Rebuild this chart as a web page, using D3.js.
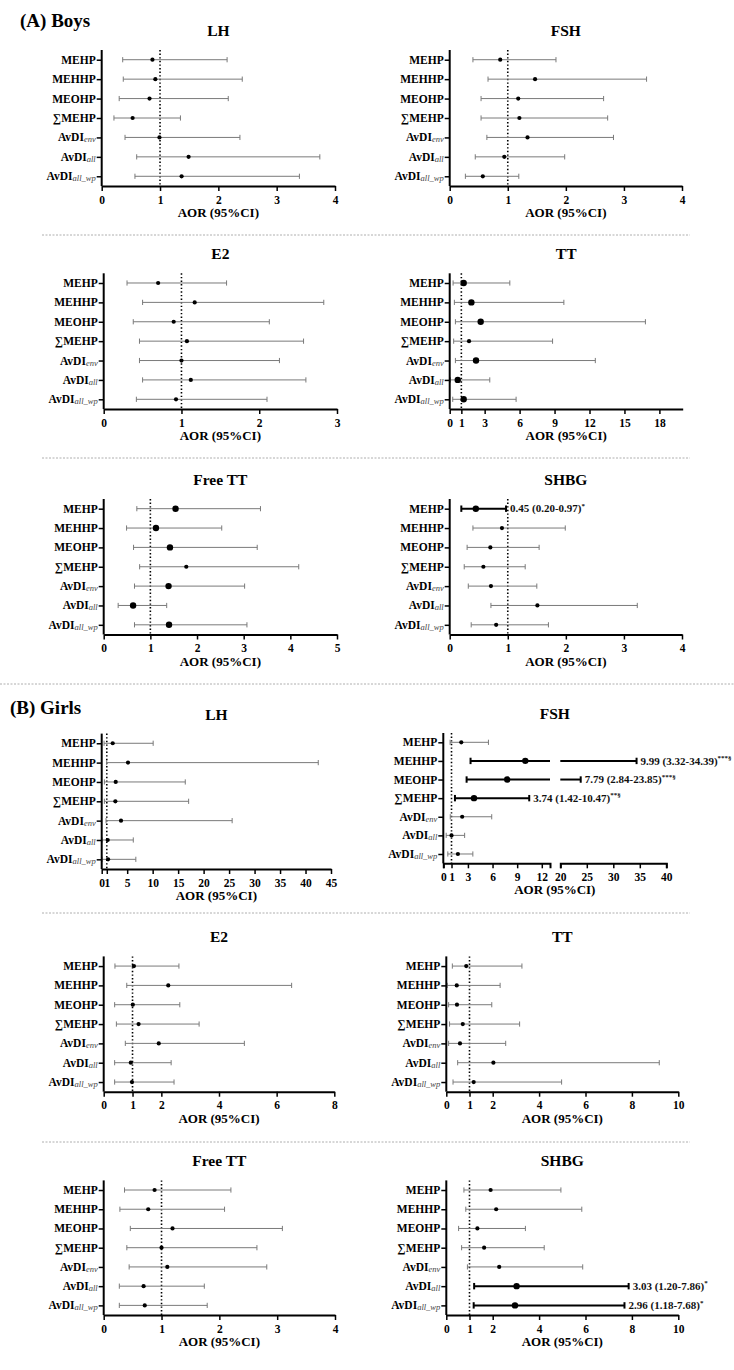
<!DOCTYPE html>
<html><head><meta charset="utf-8">
<script src="https://cdn.jsdelivr.net/npm/d3@7"></script>
<style>body{margin:0;background:#fff} text{font-family:"Liberation Serif","Times New Roman",serif}</style>
</head><body><svg id="c" width="734" height="1370"></svg>
<script>
const categories = ["MEHP","MEHHP","MEOHP","\u2211MEHP","AvDI_env","AvDI_all","AvDI_all_wp"];

// Boys
const bLH_or = [0.87,0.92,0.82,0.53,0.99,1.49,1.37];
const bLH_lo = [0.36,0.37,0.30,0.21,0.40,0.60,0.57];
const bLH_hi = [2.15,2.41,2.17,1.35,2.37,3.74,3.39];
const bLH_ticks = [0,1,2,3,4];

const bFSH_or = [0.87,1.47,1.18,1.20,1.34,0.94,0.57];
const bFSH_lo = [0.40,0.66,0.54,0.54,0.64,0.44,0.27];
const bFSH_hi = [1.83,3.39,2.65,2.72,2.82,1.98,1.19];
const bFSH_ticks = [0,1,2,3,4];

const bE2_or = [0.70,1.17,0.90,1.07,1.00,1.12,0.93];
const bE2_lo = [0.30,0.50,0.38,0.46,0.46,0.50,0.42];
const bE2_hi = [1.58,2.83,2.13,2.57,2.26,2.60,2.10];
const bE2_ticks = [0,1,2,3];

const bTT_or = [1.20,1.86,2.66,1.66,2.26,0.69,1.20];
const bTT_lo = [0.29,0.40,0.49,0.34,0.49,0.06,0.26];
const bTT_hi = [5.16,9.80,16.80,8.83,12.50,3.44,5.70];
const bTT_ticks = [0,1,3,6,9,12,15,18];

const bFTT_or = [1.54,1.12,1.42,1.77,1.39,0.63,1.40];
const bFTT_lo = [0.71,0.49,0.64,0.77,0.66,0.31,0.66];
const bFTT_hi = [3.36,2.53,3.29,4.18,3.02,1.35,3.07];
const bFTT_ticks = [0,1,2,3,4,5];

const bSHBG_or = [0.45,0.90,0.70,0.58,0.71,1.51,0.80];
const bSHBG_lo = [0.20,0.40,0.30,0.25,0.32,0.71,0.37];
const bSHBG_hi = [0.97,1.99,1.54,1.30,1.50,3.23,1.70];
const bSHBG_ticks = [0,1,2,3,4];
const bSHBG_notes = ["0.45 (0.20-0.97)","","","","","",""];
const bSHBG_sup = ["*","","","","","",""];

// Girls
const gLH_or = [2.16,5.16,2.75,2.68,3.79,1.18,1.25];
const gLH_lo = [0.46,0.98,0.52,0.52,0.85,0.07,0.07];
const gLH_hi = [10.1,42.5,16.4,17.06,25.6,6.2,6.7];
const gLH_ticks = [0,1,5,10,15,20,25,30,35,40,45];

const gFSH_or = [2.19,9.99,7.79,3.74,2.30,1.00,1.78];
const gFSH_lo = [0.83,3.32,2.84,1.42,0.85,0.35,0.55];
const gFSH_hi = [5.50,34.39,23.85,10.47,5.90,2.60,3.60];
const gFSH_ticksA = [0,1,3,6,9,12];
const gFSH_ticksB = [20,25,30,35,40];
const gFSH_notes = ["","9.99 (3.32-34.39)","7.79 (2.84-23.85)","3.74 (1.42-10.47)","","",""];
const gFSH_sup = ["","***\u00a7","***\u00a7","**\u00a7","","",""];

const gE2_or = [1.05,2.24,1.01,1.21,1.91,0.94,0.98];
const gE2_lo = [0.39,0.80,0.38,0.44,0.75,0.38,0.38];
const gE2_hi = [2.61,6.52,2.64,3.31,4.88,2.34,2.44];
const gE2_ticks = [0,1,2,4,6,8];

const gTT_or = [0.86,0.45,0.46,0.71,0.59,2.03,1.18];
const gTT_lo = [0.26,0.04,0.10,0.14,0.10,0.49,0.29];
const gTT_hi = [3.26,2.32,1.96,3.16,2.56,9.18,4.97];
const gTT_ticks = [0,1,2,4,6,8,10];

const gFTT_or = [0.88,0.77,1.19,1.00,1.10,0.69,0.71];
const gFTT_lo = [0.36,0.28,0.46,0.40,0.44,0.27,0.27];
const gFTT_hi = [2.20,2.09,3.09,2.65,2.82,1.74,1.79];
const gFTT_ticks = [0,1,2,3,4];

const gSHBG_or = [1.91,2.15,1.34,1.63,2.28,3.03,2.96];
const gSHBG_lo = [0.76,0.84,0.53,0.66,0.91,1.20,1.18];
const gSHBG_hi = [4.94,5.84,3.41,4.22,5.88,7.86,7.68];
const gSHBG_ticks = [0,1,2,4,6,8,10];
const gSHBG_notes = ["","","","","","3.03 (1.20-7.86)","2.96 (1.18-7.68)"];
const gSHBG_sup = ["","","","","","*","*"];

const none = [0,0,0,0,0,0,0];
const panels = [
 {title:"LH", or:bLH_or, lo:bLH_lo, hi:bLH_hi, ticks:bLH_ticks, domain:[0,4], x0:101.7, x1:335, top:50, bottom:186, big:none, sig:none},
 {title:"FSH", or:bFSH_or, lo:bFSH_lo, hi:bFSH_hi, ticks:bFSH_ticks, domain:[0,4], x0:449.7, x1:682, top:50, bottom:186, big:none, sig:none},
 {title:"E2", or:bE2_or, lo:bE2_lo, hi:bE2_hi, ticks:bE2_ticks, domain:[0,3], x0:103.7, x1:337, top:273.3, bottom:409, big:none, sig:none},
 {title:"TT", or:bTT_or, lo:bTT_lo, hi:bTT_hi, ticks:bTT_ticks, domain:[0,20], x0:449.7, x1:682.7, top:273.3, bottom:409, big:[1,1,1,0,1,1,1], sig:none},
 {title:"Free TT", or:bFTT_or, lo:bFTT_lo, hi:bFTT_hi, ticks:bFTT_ticks, domain:[0,5], x0:103.7, x1:337, top:499, bottom:634.5, big:[1,1,1,0,1,1,1], sig:none},
 {title:"SHBG", or:bSHBG_or, lo:bSHBG_lo, hi:bSHBG_hi, ticks:bSHBG_ticks, domain:[0,4], x0:449.7, x1:682, top:499, bottom:634.5, big:[1,0,0,0,0,0,0], sig:[1,0,0,0,0,0,0], notes:bSHBG_notes, sup:bSHBG_sup},
 {title:"LH", or:gLH_or, lo:gLH_lo, hi:gLH_hi, ticks:gLH_ticks, domain:[0,45], x0:101.7, x1:331, top:733.6, bottom:869, big:none, sig:none},
 {title:"FSH", or:gFSH_or, lo:gFSH_lo, hi:gFSH_hi, broken:true, ticksA:gFSH_ticksA, ticksB:gFSH_ticksB, x0:443.3, xa1:550, xb0:560.3, x1:666.3, top:733, bottom:863.3, big:[0,1,1,1,0,0,0], sig:[0,1,1,1,0,0,0], notes:gFSH_notes, sup:gFSH_sup},
 {title:"E2", or:gE2_or, lo:gE2_lo, hi:gE2_hi, ticks:gE2_ticks, domain:[0,8], x0:103.7, x1:334.3, top:956.4, bottom:1091.7, big:none, sig:none},
 {title:"TT", or:gTT_or, lo:gTT_lo, hi:gTT_hi, ticks:gTT_ticks, domain:[0,10], x0:446.3, x1:678.3, top:956.4, bottom:1091.7, big:none, sig:none},
 {title:"Free TT", or:gFTT_or, lo:gFTT_lo, hi:gFTT_hi, ticks:gFTT_ticks, domain:[0,4], x0:103.7, x1:335, top:1180.4, bottom:1315, big:none, sig:none},
 {title:"SHBG", or:gSHBG_or, lo:gSHBG_lo, hi:gSHBG_hi, ticks:gSHBG_ticks, domain:[0,10], x0:446.3, x1:678.3, top:1180.4, bottom:1315, big:[0,0,0,0,0,1,1], sig:[0,0,0,0,0,1,1], notes:gSHBG_notes, sup:gSHBG_sup}
];

const svg = d3.select("#c");
svg.append("rect").attr("width",734).attr("height",1370).attr("fill","#fff");

// headings
svg.append("text").attr("x",20).attr("y",27).attr("font-size",19).attr("font-weight","bold").text("(A) Boys");
svg.append("text").attr("x",10).attr("y",714).attr("font-size",19).attr("font-weight","bold").text("(B) Girls");

// separators
[[42,690,235],[42,690,458],[0,734,684],[42,690,913],[42,690,1142]].forEach(s=>{
  svg.append("line").attr("x1",s[0]).attr("x2",s[1]).attr("y1",s[2]).attr("y2",s[2])
    .attr("stroke","#9a9a9a").attr("stroke-width",0.8).attr("stroke-dasharray","2,1.5");
});

function styleAxis(g){
  g.select(".domain").attr("stroke","#000").attr("stroke-width",2);
  g.selectAll(".tick line").attr("stroke","#000").attr("stroke-width",1.5);
  g.selectAll(".tick text").attr("font-size",11.5).attr("font-weight","bold").attr("fill","#000")
    .attr("font-family","Liberation Serif, Times New Roman, serif");
}

function drawPanel(p){
  const g = svg.append("g");
  const y = d3.scalePoint().domain(categories).range([p.top,p.bottom]).padding(0.5);
  let segs;
  if(p.broken){
    const s1 = d3.scaleLinear().domain([0,13]).range([p.x0,p.xa1]);
    const s2 = d3.scaleLinear().domain([20,40]).range([p.xb0,p.x1]);
    segs = [{s:s1,d:[0,13],ticks:p.ticksA},{s:s2,d:[20,40],ticks:p.ticksB}];
  } else {
    const s = d3.scaleLinear().domain(p.domain).range([p.x0,p.x1]);
    segs = [{s:s,d:p.domain,ticks:p.ticks}];
  }
  const xv = v => { for(const sg of segs){ if(v>=sg.d[0] && v<=sg.d[1]) return sg.s(v);} return segs[0].s(v); };
  const cx = (p.x0 + p.x1)/2;

  g.append("text").attr("x",cx).attr("y",p.top-14).attr("text-anchor","middle")
    .attr("font-size",15.5).attr("font-weight","bold").text(p.title);

  // reference line at 1
  g.append("line").attr("x1",xv(1)).attr("x2",xv(1)).attr("y1",p.top).attr("y2",p.bottom)
    .attr("stroke","#000").attr("stroke-width",1.6).attr("stroke-dasharray","1.4,2.2");

  categories.forEach((c,i)=>{
    const yy = y(c);
    const sig = p.sig[i], big = p.big[i];
    const col = sig ? "#000" : "#7a7a7a";
    const sw = sig ? 2 : 1;
    const cap = sig ? 3.2 : 2.6;
    segs.forEach(sg=>{
      const a = Math.max(p.lo[i], sg.d[0]), b = Math.min(p.hi[i], sg.d[1]);
      if(a < b){
        g.append("line").attr("x1",sg.s(a)).attr("x2",sg.s(b)).attr("y1",yy).attr("y2",yy)
          .attr("stroke",col).attr("stroke-width",sw);
        if(p.lo[i] >= sg.d[0]) g.append("line").attr("x1",sg.s(a)).attr("x2",sg.s(a)).attr("y1",yy-cap).attr("y2",yy+cap).attr("stroke",col).attr("stroke-width",sw);
        if(p.hi[i] <= sg.d[1]) g.append("line").attr("x1",sg.s(b)).attr("x2",sg.s(b)).attr("y1",yy-cap).attr("y2",yy+cap).attr("stroke",col).attr("stroke-width",sw);
      }
    });
    g.append("circle").attr("cx",xv(p.or[i])).attr("cy",yy).attr("r", big ? 3.2 : 2.1).attr("fill","#000");
    if(p.notes && p.notes[i]){
      const t = g.append("text").attr("x",xv(p.hi[i])+4).attr("y",yy+3.8)
        .attr("font-size",11).attr("font-weight","bold").attr("fill","#111");
      t.append("tspan").text(p.notes[i]);
      t.append("tspan").attr("font-size",7).attr("dy",-4.5).text(p.sup[i]);
    }
  });

  // y axis
  const ya = g.append("g").attr("transform",`translate(${p.x0},0)`)
    .call(d3.axisLeft(y).tickSize(5).tickSizeOuter(0).tickFormat(""));
  ya.select(".domain").attr("stroke","#000").attr("stroke-width",2)
    .attr("d",`M0,${p.top}V${p.bottom}`);
  ya.selectAll(".tick line").attr("stroke","#000").attr("stroke-width",1.5);
  categories.forEach(c=>{
    const t = g.append("text").attr("x",p.x0-6).attr("y",y(c)+4).attr("text-anchor","end")
      .attr("font-size",11.5).attr("font-weight","bold").attr("fill","#000");
    if(c.startsWith("AvDI_")){
      t.append("tspan").text("AvDI");
      t.append("tspan").attr("font-size",8.5).attr("font-weight","normal").attr("font-style","italic")
        .attr("fill","#444").attr("dy",1).text(c.slice(5));
    } else t.text(c);
  });

  // x axis
  segs.forEach((sg,k)=>{
    const xa = g.append("g").attr("transform",`translate(0,${p.bottom})`)
      .call(d3.axisBottom(sg.s).tickValues(sg.ticks).tickSize(5).tickSizeOuter(p.broken?5:0).tickFormat(d3.format("d")));
    styleAxis(xa);
    xa.selectAll(".tick text").attr("dy","0.85em");
  });
  g.append("text").attr("x",cx).attr("y",p.bottom+31).attr("text-anchor","middle")
    .attr("font-size",13).attr("font-weight","bold").text("AOR (95%CI)");
}
panels.forEach(drawPanel);
</script></body></html>
